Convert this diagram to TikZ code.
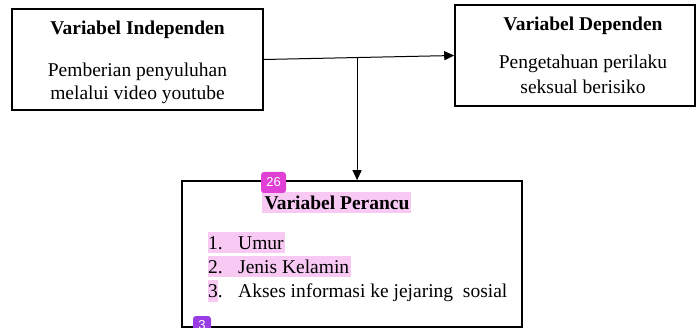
\documentclass[tikz,border=0pt]{standalone}
\usepackage{fontspec}
\setmainfont{Liberation Serif}
\newfontfamily\badgefont{Liberation Sans}
\usetikzlibrary{arrows.meta,calc}
\definecolor{hl}{HTML}{F7C9F3}
\definecolor{badgeA}{HTML}{E040D6}
\definecolor{badgeB}{HTML}{9A3CE6}
\tikzset{
 box/.style={draw=black, line width=1.6pt, inner sep=0pt},
 txt/.style={font=\fontsize{19.5}{23}\selectfont, inner sep=0pt, anchor=base},
 ttl/.style={txt, font=\fontsize{19.5}{23}\selectfont\bfseries},
 conn/.style={line width=1pt, -{Triangle[length=10pt,width=9pt]}},
 badge/.style={fill=#1, rounded corners=3pt, text=white, font=\badgefont\fontsize{13}{13}\selectfont, inner sep=0pt},
}
\begin{document}
\begin{tikzpicture}[x=1pt,y=-1pt]
\useasboundingbox (0,0) rectangle (698,328);
\clip (0,0) rectangle (698,328);
% boxes
\node[box, minimum width=251pt, minimum height=101pt] (ind) at (137.5,59.5) {};
\node[box, minimum width=240pt, minimum height=101pt] (dep) at (575,55.5) {};
\node[box, minimum width=340pt, minimum height=146pt] (per) at (352,254) {};
% highlights
\fill[hl] (262,192) rectangle (411,213);
\fill[hl] (208,232) rectangle (285,253);
\fill[hl] (208,256) rectangle (351,277);
\fill[hl] (208,280) rectangle (218,302);
% texts box 1
\node[ttl] (t1) at (137.5,35) {Variabel Independen};
\node[txt] (a1) at (137.5,77) {Pemberian penyuluhan};
\node[txt] (a2) at (137.5,100) {melalui video youtube};
% texts box 2
\node[ttl] (t2) at (583,31) {Variabel Dependen};
\node[txt] (b1) at (583,69) {Pengetahuan perilaku};
\node[txt] (b2) at (583,94) {seksual berisiko};
% texts box 3
\node[ttl] (t3) at (337,210) {Variabel Perancu};
\node[txt, anchor=base west] (n1) at (208,250) {1.};
\node[txt, anchor=base west] (i1) at (238,250) {Umur};
\node[txt, anchor=base west] (n2) at (208,274) {2.};
\node[txt, anchor=base west] (i2) at (238,274) {Jenis Kelamin};
\node[txt, anchor=base west] (n3) at (208,298) {3.};
\node[txt, anchor=base west] (i3) at (238,298) {Akses informasi ke jejaring\ \ sosial};
% connectors
\draw[conn] (ind.east) -- (dep.west);
\coordinate (j) at ($(ind.east)!0.49!(dep.west)$);
\draw[conn] (j) -- (j |- per.north);
% badges
\node[badge=badgeA, minimum width=25pt, minimum height=21pt] (bA) at (273.5,182.5) {26};
\node[badge=badgeB, minimum width=18pt, minimum height=18pt] (bB) at (202,325) {3};
\end{tikzpicture}
\end{document}
